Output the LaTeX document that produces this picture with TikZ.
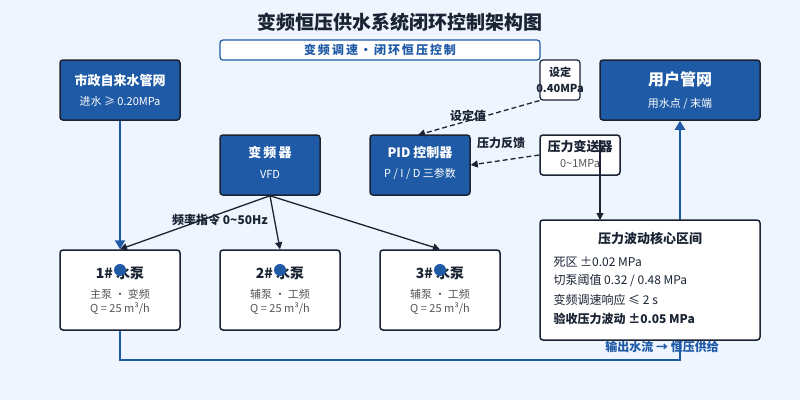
\documentclass[tikz,border=0pt]{standalone}
\usepackage{fontspec}
\setmainfont{Noto Sans CJK SC}
\usetikzlibrary{arrows.meta}
\definecolor{bg}{HTML}{EEF5FE}
\definecolor{dblue}{HTML}{1F5AA6}
\definecolor{dark}{HTML}{1A2333}
\definecolor{gtext}{HTML}{555555}
\begin{document}
\begin{tikzpicture}[x=1pt,y=-1pt,
  fs/.style={font=\fontsize{#1}{#1}\selectfont},
  bbox/.style={draw=dark,line width=1.5pt,fill=dblue,rounded corners=3pt},
  wbox/.style={draw=dark,line width=1.5pt,fill=white,rounded corners=3pt},
  pipe/.style={draw=dblue,line width=2.5pt},
  ctl/.style={draw=dark,line width=1.3pt,-{Triangle[length=7pt,width=7pt]}},
  dsh/.style={ctl,dash pattern=on 5pt off 3pt},
  wt/.style={text=white,font=\bfseries\fontsize{13}{13}\selectfont},
  ws/.style={text=white,font=\fontsize{11}{11}\selectfont},
  lbl/.style={text=dark,font=\bfseries\fontsize{12}{12}\selectfont}]
\fill[bg] (0,0) rectangle (800,400);
\useasboundingbox (0,0) rectangle (800,400);
\node[text=dark,font=\bfseries\fontsize{19}{19}\selectfont] (title) at (400,22) {变频恒压供水系统闭环控制架构图};
\node[draw=dblue,line width=1.2pt,fill=white,rounded corners=3pt,minimum width=320pt,minimum height=20pt,text=dblue,font=\bfseries\fontsize{12}{12}\selectfont] (sub) at (380,50) {变\,频\,调\,速\,·\,闭\,环\,恒\,压\,控\,制};
% pipes
\coordinate (c1) at (120,360);
\coordinate (c2) at (680,360);
\node[bbox,minimum width=120pt,minimum height=60pt] (city) at (120,90) {};
\node[bbox,minimum width=160pt,minimum height=60pt] (user) at (680,90) {};
\node[wbox,minimum width=120pt,minimum height=80pt] (p1) at (120,290) {};
\node[wbox,minimum width=120pt,minimum height=80pt] (p2) at (280,290) {};
\node[wbox,minimum width=120pt,minimum height=80pt] (p3) at (440,290) {};
\draw[pipe,-{Triangle[length=9pt,width=10pt]}] (city.south) -- (p1.north);
\draw[pipe,-{Triangle[length=9pt,width=10pt]}] (p1.south) -- (c1) -- (c2) -- (user.south);
\node[wt] at (120,80) {市政自来水管网};
\node[ws] at (120,101) {进水 ≥ 0.20MPa};
\node[text=white,font=\bfseries\fontsize{16}{16}\selectfont] at (680,79) {用户管网};
\node[ws] at (680,104) {用水点 / 末端};
\node[bbox,minimum width=100pt,minimum height=60pt] (vfd) at (270,165) {};
\node[wt] at (270,153) {变\,频\,器};
\node[ws] at (270,174) {VFD};
\node[bbox,minimum width=100pt,minimum height=60pt] (pid) at (420,165) {};
\node[wt] at (420,153) {PID 控制器};
\node[ws] at (420,174) {P / I / D 三参数};
\node[wbox,minimum width=40pt,minimum height=40pt,line width=1.2pt] (set) at (560,80) {};
\node[text=dark,font=\bfseries\fontsize{11}{11}\selectfont] at (560,72) {设定};
\node[text=dark,font=\bfseries\fontsize{11}{11}\selectfont] at (560,88) {0.40MPa};
\node[wbox,minimum width=80pt,minimum height=40pt] (tx) at (580,155) {};
\node[text=dark,font=\bfseries\fontsize{13}{13}\selectfont] at (580,147) {压力变送器};
\node[text=gtext,font=\fontsize{11}{11}\selectfont] at (580,164) {0\textasciitilde1MPa};
\node[wbox,minimum width=220pt,minimum height=120pt] (core) at (650,280) {};
\draw[ctl,line width=1.2pt] (600,140) -- (600,220);
\node[text=dark,font=\bfseries\fontsize{13}{13}\selectfont] at (650,239) {压力波动核心区间};
\node[anchor=west,text=dark,font=\fontsize{12}{12}\selectfont] at (550,262) {死区 ±0.02 MPa};
\node[anchor=west,text=dark,font=\fontsize{12}{12}\selectfont] at (550,281) {切泵阈值 0.32 / 0.48 MPa};
\node[anchor=west,text=dark,font=\fontsize{12}{12}\selectfont] at (550,300) {变频调速响应 ≤ 2 s};
\node[anchor=west,text=dark,font=\bfseries\fontsize{12}{12}\selectfont] at (550,319) {验收压力波动 ±0.05 MPa};
\node[text=dblue,font=\bfseries\fontsize{12}{12}\selectfont] at (662,347) {输出水流 → 恒压供给};
% control
\draw[ctl] (vfd.south) -- (p1.north);
\draw[ctl] (vfd.south) -- (p2.north);
\draw[ctl] (vfd.south) -- (p3.north);
\node[lbl] at (220,220) {频率指令 0\textasciitilde50Hz};
\draw[dsh] (set.south west) -- (418,135);
\node[lbl] at (468,116) {设定值};
\draw[dsh] (tx.west) -- (pid.east);
\node[lbl] at (501,143) {压力反馈};
% pumps
\foreach \n/\x/\a in {1/120/主泵 · 变频,2/280/辅泵 · 工频,3/440/辅泵 · 工频}{
  \node[text=dark,font=\bfseries\fontsize{14}{14}\selectfont] at (\x,273) {\n\# 水泵};
  \fill[dblue] (\x,270) circle (6pt);
  \node[text=gtext,font=\fontsize{11}{11}\selectfont] at (\x,294) {\a};
  \node[text=gtext,font=\fontsize{11}{11}\selectfont] at (\x,309) {Q = 25 m³/h};
}
\end{tikzpicture}
\end{document}
